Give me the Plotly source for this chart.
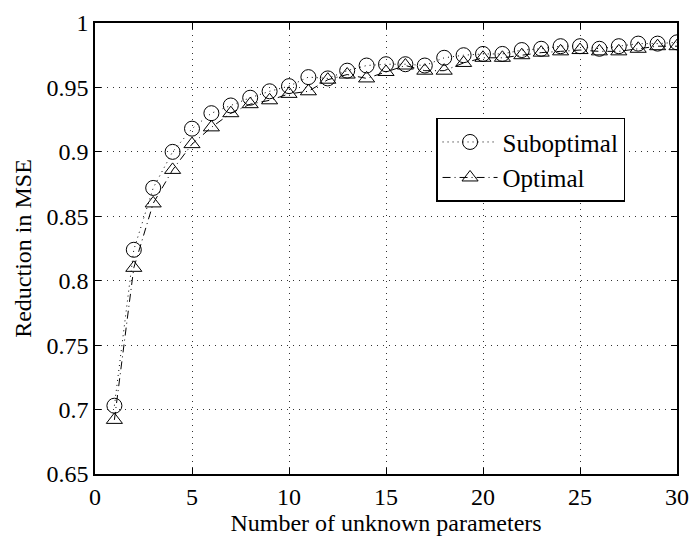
import plotly.graph_objects as go

n_params = list(range(1, 31))
suboptimal = [0.703, 0.824, 0.872, 0.900, 0.918, 0.930, 0.936, 0.942, 0.947, 0.951,
              0.958, 0.957, 0.963, 0.967, 0.968, 0.968, 0.967, 0.973, 0.975, 0.976,
              0.976, 0.979, 0.980, 0.982, 0.982, 0.980, 0.982, 0.984, 0.984, 0.985]
optimal = [0.692, 0.810, 0.860, 0.886, 0.906, 0.919, 0.930, 0.937, 0.940, 0.945,
           0.947, 0.956, 0.960, 0.957, 0.962, 0.967, 0.963, 0.963, 0.969, 0.973,
           0.973, 0.975, 0.977, 0.978, 0.979, 0.978, 0.978, 0.980, 0.982, 0.982]

x_ticks = [0, 5, 10, 15, 20, 25, 30]
y_ticks = [0.65, 0.7, 0.75, 0.8, 0.85, 0.9, 0.95, 1.0]
y_tick_text = ["0.65", "0.7", "0.75", "0.8", "0.85", "0.9", "0.95", "1"]

FONT = "Liberation Serif, Times New Roman, serif"
FS = 24

fig = go.Figure()
fig.add_trace(go.Scatter(
    x=n_params, y=suboptimal, name="Suboptimal", mode="lines+markers",
    line=dict(color="black", width=1, dash="1px,4px"),
    marker=dict(symbol="circle-open", size=15, color="black", line=dict(width=1, color="black")),
))
fig.add_trace(go.Scatter(
    x=n_params, y=optimal, name="Optimal", mode="lines+markers",
    line=dict(color="black", width=1, dash="8px,4px,1px,4px"),
    marker=dict(symbol="triangle-up-open", size=14, color="black", line=dict(width=1, color="black")),
))

axis_common = dict(
    showline=True, linecolor="black", linewidth=1.5, mirror="ticks",
    ticks="inside", ticklen=6, tickcolor="black", tickwidth=1,
    showgrid=True, gridcolor="rgba(0,0,0,0.8)", gridwidth=1, griddash="1px,5px",
    zeroline=False, tickfont=dict(family=FONT, size=FS, color="black"),
    ticklabeloverflow="allow",
)

fig.update_xaxes(range=[0, 30], tickvals=x_ticks,
                 title=dict(text="Number of unknown parameters", font=dict(family=FONT, size=FS, color="black"), standoff=0),
                 **axis_common)
fig.update_yaxes(range=[0.65, 1.0], tickvals=y_ticks, ticktext=y_tick_text,
                 title=dict(text="Reduction in MSE", font=dict(family=FONT, size=FS, color="black"), standoff=8),
                 **axis_common)

fig.update_layout(
    width=699, height=538,
    margin=dict(l=95, r=15, t=10, b=64),
    paper_bgcolor="white", plot_bgcolor="white",
    font=dict(family=FONT, size=FS, color="black"),
    showlegend=True,
    legend=dict(x=0.586, y=0.79, xanchor="left", yanchor="top",
                bgcolor="white", bordercolor="black", borderwidth=1.5,
                font=dict(family=FONT, size=25, color="black"),
                tracegroupgap=0, itemwidth=55),
)

fig.write_html("out.html")
